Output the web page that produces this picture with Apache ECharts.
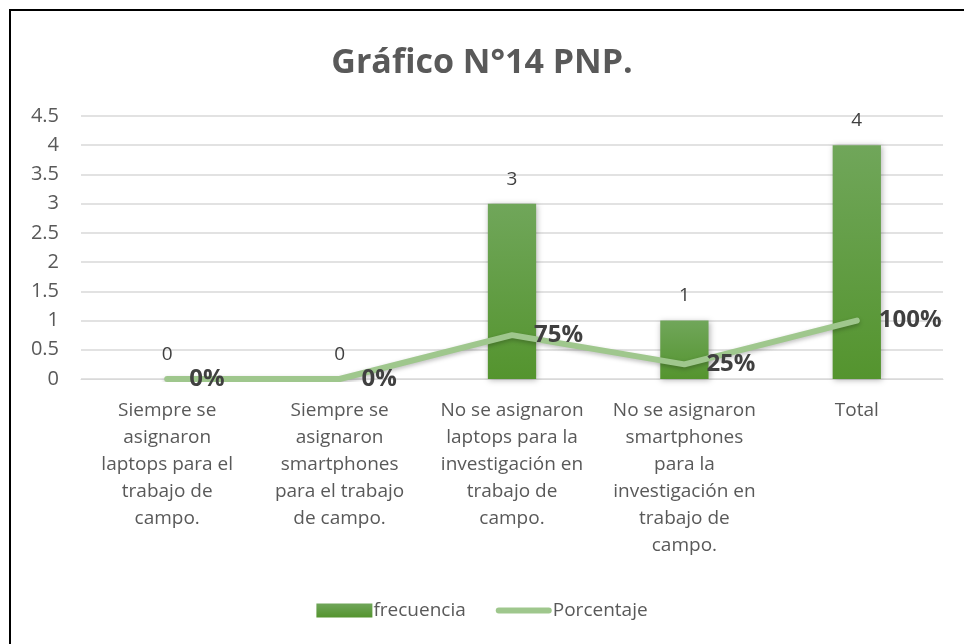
<!DOCTYPE html>
<html>
<head>
<meta charset="utf-8">
<script src="https://cdn.jsdelivr.net/npm/echarts@6/dist/echarts.min.js"></script>
<style>
  html, body { margin: 0; padding: 0; background: #fff; }
  #chart { width: 964px; height: 644px; }
</style>
</head>
<body>
<div id="chart"></div>
<script>
// categories and values
const categories = [
  'Siempre se\nasignaron\nlaptops para el\ntrabajo de\ncampo.',
  'Siempre se\nasignaron\nsmartphones\npara el trabajo\nde campo.',
  'No se asignaron\nlaptops para la\ninvestigación en\ntrabajo de\ncampo.',
  'No se asignaron\nsmartphones\npara la\ninvestigación en\ntrabajo de\ncampo.',
  'Total'
]
const frecuencia = [0, 0, 3, 1, 4]
const porcentaje = [0, 0, 0.75, 0.25, 1]
const yTicks = [0, 0.5, 1, 1.5, 2, 2.5, 3, 3.5, 4, 4.5]

const font = 'Open Sans, Noto Sans, sans-serif'
const lineGreen = '#9fc78d'
const chart = echarts.init(document.getElementById('chart'))

const option = {
  animation: false,
  title: {
    text: 'Gráfico N°14 PNP.',
    left: 'center',
    top: 41,
    textStyle: {
      fontFamily: font,
      fontSize: 34,
      fontWeight: 'bold',
      color: '#595959'
    }
  },
  graphic: [
    {
      type: 'rect',
      shape: { x: 10, y: 10, width: 1000, height: 1000 },
      style: { fill: 'none', stroke: '#000', lineWidth: 2 }
    }
  ],
  legend: {
    bottom: 19,
    left: 'center',
    itemGap: 30,
    itemWidth: 56,
    itemHeight: 14,
    textStyle: { fontFamily: font, fontSize: 19, color: '#595959', padding: [0, 0, 0, -4] },
    data: [
      { name: 'frecuencia', icon: 'rect' },
      {
        name: 'Porcentaje',
        icon: 'path://M0,0 L0,0 M3,4 L53,4 A3,3 0 0 1 53,10 L3,10 A3,3 0 0 1 3,4 Z M56,14 L56,14',
        itemStyle: { color: lineGreen, opacity: 1 }
      }
    ]
  },
  grid: {
    left: 81,
    right: 21,
    top: 116,
    bottom: 265
  },
  xAxis: {
    type: 'category',
    data: categories,
    axisLine: { show: true, lineStyle: { color: '#d9d9d9', width: 1 } },
    axisTick: { show: false },
    axisLabel: {
      interval: 0,
      margin: 18,
      fontFamily: font,
      fontSize: 19,
      lineHeight: 27,
      color: '#595959',
      align: 'center'
    }
  },
  yAxis: {
    type: 'value',
    min: 0,
    max: 4.5,
    interval: 0.5,
    axisLine: { show: false },
    axisTick: { show: false },
    splitLine: { lineStyle: { color: '#d9d9d9', width: 1.5 } },
    axisLabel: {
      margin: 22,
      fontFamily: font,
      fontSize: 20,
      color: '#595959',
      formatter: v => (yTicks.indexOf(v) >= 0 ? String(v) : '')
    }
  },
  series: [
    {
      name: 'frecuencia',
      type: 'bar',
      data: frecuencia,
      barWidth: '28%',
      itemStyle: {
        color: new echarts.graphic.LinearGradient(0, 0, 0, 1, [
          { offset: 0, color: '#70a65a' },
          { offset: 1, color: '#54942e' }
        ]),
        shadowColor: 'rgba(0,0,0,0.3)',
        shadowBlur: 6,
        shadowOffsetX: 1,
        shadowOffsetY: 1
      },
      label: {
        show: true,
        position: 'top',
        distance: 15,
        fontFamily: font,
        fontSize: 19,
        color: '#404040'
      }
    },
    {
      name: 'Porcentaje',
      type: 'line',
      data: porcentaje,
      symbol: 'circle',
      symbolSize: 2,
      showSymbol: true,
      lineStyle: {
        color: lineGreen,
        width: 6,
        cap: 'round',
        shadowColor: 'rgba(0,0,0,0.25)',
        shadowBlur: 4,
        shadowOffsetY: 2
      },
      itemStyle: { color: lineGreen },
      labelLayout: { hideOverlap: false },
      label: {
        show: true,
        position: 'right',
        distance: 21,
        offset: [0, 5],
        fontFamily: font,
        fontSize: 24,
        fontWeight: 'bold',
        color: '#404040',
        formatter: p => Math.round(p.value * 100) + '%'
      },
      z: 3
    }
  ]
}

chart.setOption(option)
</script>
</body>
</html>
